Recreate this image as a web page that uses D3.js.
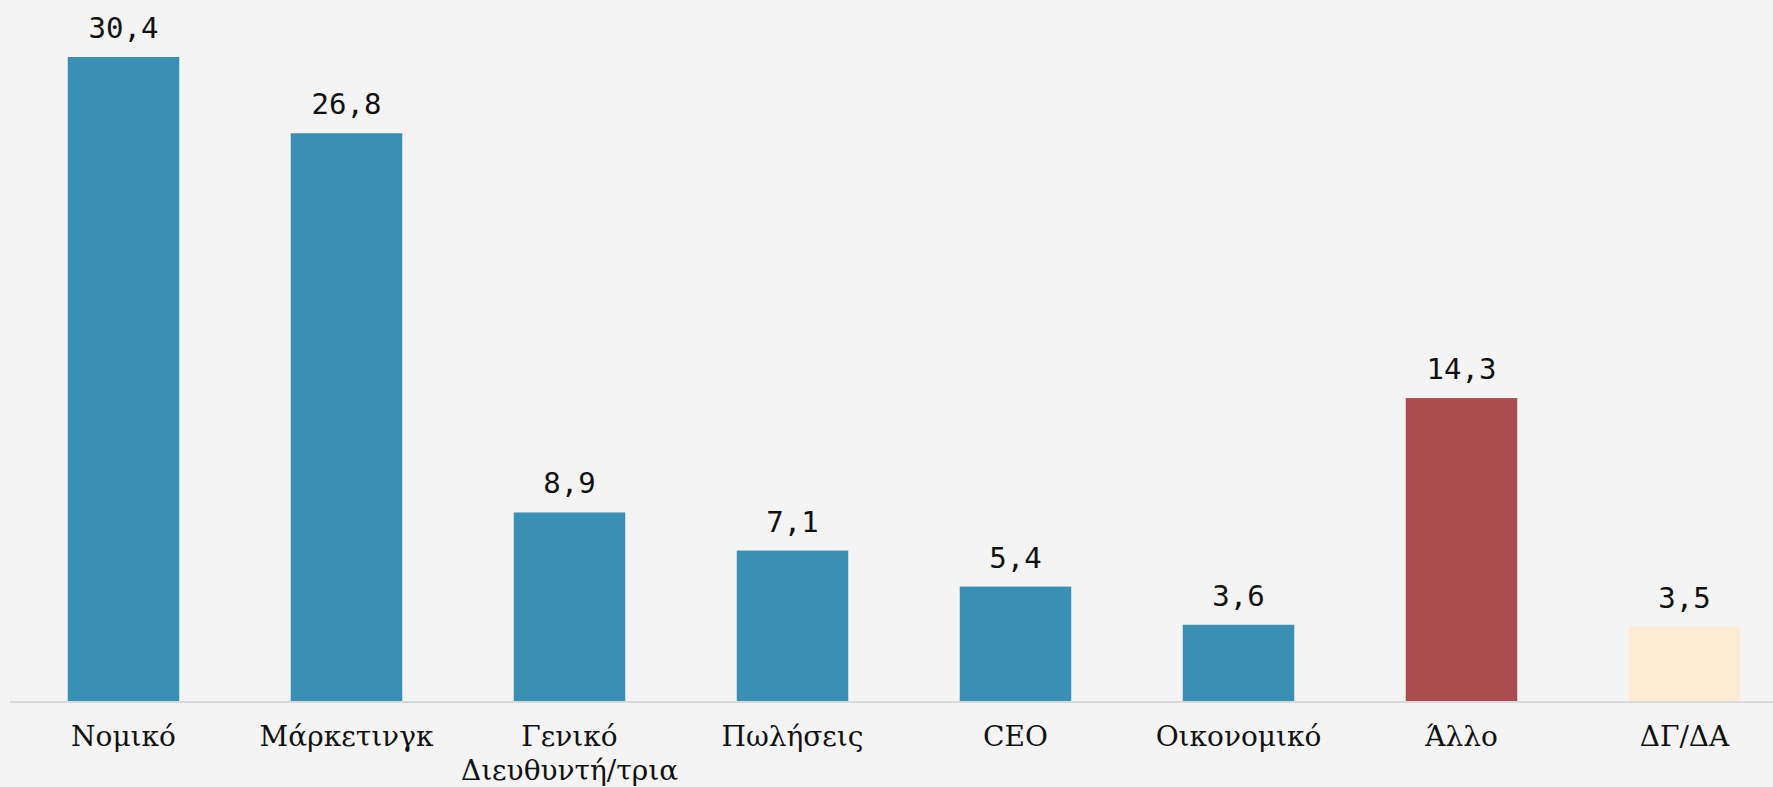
<!DOCTYPE html>
<html>
<head>
<meta charset="utf-8">
<script src="https://cdn.jsdelivr.net/npm/d3@7"></script>
<style>
  html, body { margin: 0; padding: 0; background: #f4f4f4; }
  svg { display: block; }
</style>
</head>
<body>
<div class="container"></div>
<script>
const WIDTH = 1773;
const HEIGHT = 787;
const BASELINE = 701;

var categories = ["Νομικό", "Μάρκετινγκ", "Γενικό Διευθυντή/τρια", "Πωλήσεις", "CEO", "Οικονομικό", "Άλλο", "ΔΓ/ΔΑ"];
var values = [30.4, 26.8, 8.9, 7.1, 5.4, 3.6, 14.3, 3.5];
var groups = ["main", "main", "main", "main", "main", "main", "other", "na"];

var colors = { main: "#3a8fb5", other: "#ab4c51", na: "#fbecd3" };

var data = categories.map(function(c, i){
    return { name: c, value: values[i], group: groups[i] };
});

var x = d3.scaleBand()
    .domain(categories)
    .range([12, 1796])
    .paddingInner(0.5)
    .paddingOuter(0.25);

var y = d3.scaleLinear()
    .domain([0, 30.4])
    .range([BASELINE, 57]);

var svg = d3.select(".container")
    .append("svg")
    .attr("width", WIDTH)
    .attr("height", HEIGHT);

svg.append("rect")
    .attr("width", WIDTH)
    .attr("height", HEIGHT)
    .attr("fill", "#f4f4f4");

svg.selectAll("rect.bar")
    .data(data)
    .enter().append("rect")
    .attr("class", "bar")
    .attr("x", function(d){ return x(d.name); })
    .attr("y", function(d){ return y(d.value); })
    .attr("width", x.bandwidth())
    .attr("height", function(d){ return y(0) - y(d.value); })
    .attr("fill", function(d){ return colors[d.group]; });

// axis line
svg.append("line")
    .attr("x1", 10)
    .attr("x2", WIDTH)
    .attr("y1", BASELINE + 1)
    .attr("y2", BASELINE + 1)
    .attr("stroke", "#d9d9d9")
    .attr("stroke-width", 2);

var fmt = function(v){ return d3.format(".1f")(v).replace(".", ","); };

svg.selectAll("text.value")
    .data(data)
    .enter().append("text")
    .attr("class", "value")
    .attr("x", function(d){ return x(d.name) + x.bandwidth() / 2; })
    .attr("y", function(d){ return y(d.value) - 19; })
    .attr("text-anchor", "middle")
    .attr("font-family", "'DejaVu Sans Mono', monospace")
    .attr("font-size", 29)
    .attr("fill", "#111")
    .text(function(d){ return fmt(d.value); });

var labels = svg.selectAll("text.cat")
    .data(data)
    .enter().append("text")
    .attr("class", "cat")
    .attr("text-anchor", "middle")
    .attr("font-family", "'DejaVu Serif', serif")
    .attr("font-size", 28)
    .attr("fill", "#111");

labels.each(function(d){
    var t = d3.select(this);
    var cx = x(d.name) + x.bandwidth() / 2;
    d.name.split(" ").forEach(function(w, i){
        t.append("tspan")
            .attr("x", cx)
            .attr("y", 746 + i * 34)
            .text(w);
    });
});
</script>
</body>
</html>
